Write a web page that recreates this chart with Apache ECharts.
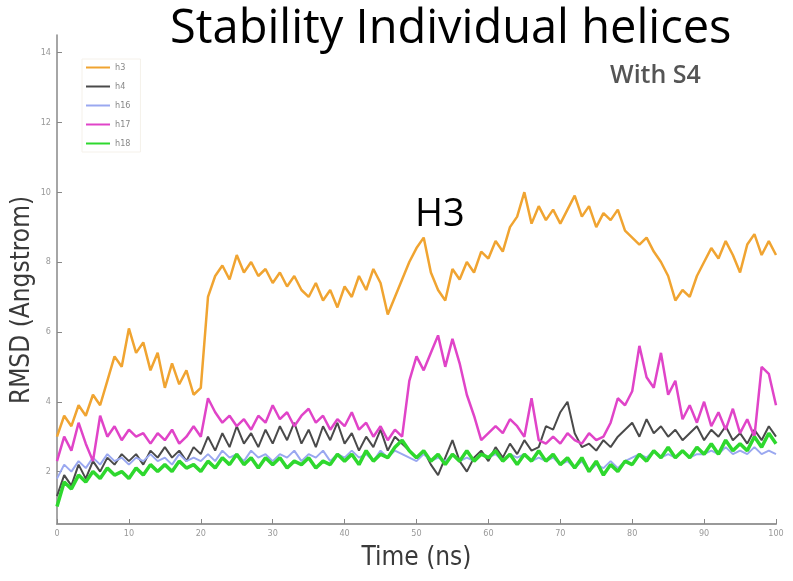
<!DOCTYPE html>
<html>
<head>
<meta charset="utf-8">
<script src="https://cdn.jsdelivr.net/npm/echarts@6/dist/echarts.min.js"></script>
<style>
  html, body { margin: 0; padding: 0; background: #fff; }
  #rmsd_chart { width: 793px; height: 581px; }
</style>
</head>
<body>
<div id="rmsd_chart"></div>
<script>
// sampling times (ns), one frame per ns
var times = [];
for (var t = 0; t <= 100; t++) times.push(t);

var yTicks = [2, 4, 6, 8, 10, 12, 14];
var seriesNames = ['h3', 'h4', 'h16', 'h17', 'h18'];

var h3 = [3.0, 3.6, 3.3, 3.9, 3.6, 4.2, 3.9, 4.6, 5.3, 5.0,
    6.1, 5.4, 5.7, 4.9, 5.4, 4.4, 5.1, 4.5, 4.9, 4.2,
    4.4, 7.0, 7.6, 7.9, 7.5, 8.2, 7.7, 8.0, 7.6, 7.8,
    7.4, 7.7, 7.3, 7.6, 7.2, 7.0, 7.4, 6.9, 7.2, 6.7,
    7.3, 7.0, 7.6, 7.2, 7.8, 7.4, 6.5, 7.0, 7.5, 8.0,
    8.4, 8.7, 7.7, 7.2, 6.9, 7.8, 7.5, 8.0, 7.7, 8.3,
    8.1, 8.6, 8.3, 9.0, 9.3, 10.0, 9.1, 9.6, 9.2, 9.5,
    9.1, 9.5, 9.9, 9.3, 9.6, 9.0, 9.4, 9.2, 9.5, 8.9,
    8.7, 8.5, 8.7, 8.3, 8.0, 7.6, 6.9, 7.2, 7.0, 7.6,
    8.0, 8.4, 8.1, 8.6, 8.2, 7.7, 8.5, 8.8, 8.2, 8.6, 8.2];

var h4 = [1.3, 1.9, 1.6, 2.2, 1.8, 2.3, 2.0, 2.4, 2.2, 2.5,
    2.3, 2.5, 2.2, 2.6, 2.4, 2.7, 2.4, 2.6, 2.3, 2.7,
    2.5, 3.0, 2.6, 3.1, 2.7, 3.3, 2.8, 3.1, 2.7, 3.2,
    2.8, 3.3, 2.9, 3.4, 2.8, 3.2, 2.7, 3.3, 2.9, 3.4,
    2.8, 3.1, 2.6, 3.0, 2.7, 3.2, 2.6, 3.0, 2.8, 2.6,
    2.4, 2.6, 2.2, 1.9, 2.4, 2.9, 2.3, 2.0, 2.4, 2.6,
    2.3, 2.7, 2.4, 2.8, 2.5, 2.9, 2.6, 2.7, 3.3, 3.2,
    3.7, 4.0, 3.1, 2.7, 2.8, 2.6, 2.9, 2.7, 3.0, 3.2,
    3.4, 3.0, 3.5, 3.1, 3.3, 3.0, 3.2, 2.9, 3.1, 3.3,
    2.9, 3.2, 3.0, 3.3, 2.9, 3.1, 2.8, 3.2, 2.9, 3.3, 3.0];

var h16 = [1.8, 2.2, 2.0, 2.3, 2.1, 2.4, 2.2, 2.5, 2.3, 2.4,
    2.2, 2.4, 2.3, 2.5, 2.3, 2.4, 2.2, 2.5, 2.3, 2.4,
    2.3, 2.5, 2.3, 2.6, 2.4, 2.5, 2.3, 2.6, 2.4, 2.5,
    2.3, 2.5, 2.4, 2.6, 2.3, 2.5, 2.4, 2.6, 2.3, 2.5,
    2.4, 2.6, 2.4, 2.5, 2.3, 2.6, 2.4, 2.6, 2.5, 2.4,
    2.3, 2.5, 2.3, 2.4, 2.3, 2.5, 2.3, 2.4, 2.3, 2.5,
    2.4, 2.5, 2.3, 2.5, 2.4, 2.5, 2.3, 2.4, 2.3, 2.4,
    2.2, 2.3, 2.1, 2.3, 2.0, 2.2, 2.1, 2.3, 2.1, 2.3,
    2.4, 2.5, 2.4, 2.6, 2.4, 2.5, 2.4, 2.6, 2.4, 2.5,
    2.5, 2.6, 2.5, 2.7, 2.5, 2.6, 2.5, 2.7, 2.5, 2.6, 2.5];

var h17 = [2.3, 3.0, 2.6, 3.4, 2.8, 2.3, 3.6, 3.0, 3.3, 2.9,
    3.2, 3.0, 3.1, 2.8, 3.1, 2.9, 3.2, 2.8, 3.0, 3.3,
    3.0, 4.1, 3.7, 3.4, 3.6, 3.3, 3.5, 3.2, 3.6, 3.4,
    3.9, 3.5, 3.7, 3.3, 3.6, 3.8, 3.4, 3.6, 3.2, 3.5,
    3.3, 3.7, 3.2, 3.4, 3.0, 3.3, 2.9, 3.2, 3.0, 4.6,
    5.3, 4.9, 5.4, 5.9, 5.0, 5.8, 5.1, 4.2, 3.6, 2.9,
    3.1, 3.3, 3.1, 3.5, 3.3, 3.0, 4.1, 2.9, 2.8, 3.0,
    2.8, 3.1, 2.9, 2.8, 3.1, 2.9, 3.0, 3.4, 4.1, 3.9,
    4.3, 5.6, 4.7, 4.4, 5.4, 4.2, 4.6, 3.5, 3.9, 3.4,
    4.0, 3.3, 3.7, 3.2, 3.8, 3.1, 3.5, 3.0, 5.0, 4.8, 3.9];

var h18 = [1.0, 1.7, 1.5, 1.9, 1.7, 2.0, 1.8, 2.1, 1.9, 2.0,
    1.8, 2.1, 1.9, 2.2, 2.0, 2.2, 2.0, 2.3, 2.1, 2.2,
    2.0, 2.3, 2.1, 2.4, 2.2, 2.5, 2.2, 2.4, 2.1, 2.4,
    2.2, 2.4, 2.1, 2.3, 2.2, 2.4, 2.1, 2.3, 2.2, 2.5,
    2.3, 2.5, 2.2, 2.6, 2.3, 2.5, 2.4, 2.7, 2.9, 2.6,
    2.4, 2.6, 2.3, 2.5, 2.2, 2.5, 2.3, 2.6, 2.3, 2.5,
    2.4, 2.6, 2.3, 2.5, 2.2, 2.5, 2.3, 2.6, 2.3, 2.5,
    2.2, 2.4, 2.1, 2.4, 2.0, 2.3, 1.9, 2.2, 2.0, 2.3,
    2.2, 2.5, 2.3, 2.6, 2.4, 2.7, 2.4, 2.6, 2.4, 2.7,
    2.5, 2.8, 2.5, 2.9, 2.6, 2.8, 2.6, 3.0, 2.7, 3.1, 2.8];

var allValues = [h3, h4, h16, h17, h18];
var colors = ['#f0a431', '#4a4a4a', '#9aa8f0', '#e044c8', '#2ed82e'];
var widths = [2.5, 2, 2, 2.5, 3.5];

function pairs(vals) {
    return times.map(function(t, i) { return [t, vals[i]]; });
}

var axisFont = '"DejaVu Sans Condensed", "Liberation Sans", sans-serif';

var myChart = echarts.init(document.getElementById('rmsd_chart'));
var option = {
    backgroundColor: '#fff',
    color: colors,
    animation: false,
    legend: {
        orient: 'vertical',
        left: 82,
        top: 59,
        itemWidth: 24,
        itemHeight: 2,
        itemGap: 10,
        icon: 'rect',
        padding: [4, 10, 4, 4],
        borderColor: '#f5f1ea',
        borderWidth: 1,
        textStyle: { color: '#888', fontSize: 9, fontFamily: axisFont },
        data: seriesNames,
    },
    grid: { left: 57, right: 17, top: 35, bottom: 57 },
    xAxis: {
        type: 'value',
        min: 0,
        max: 100,
        interval: 10,
        name: 'Time (ns)',
        nameLocation: 'middle',
        nameGap: 21,
        nameTextStyle: { color: '#3a3a3a', fontSize: 26, fontFamily: axisFont },
        axisLine: { lineStyle: { color: '#999', width: 2 } },
        axisTick: { inside: true, length: 5, lineStyle: { color: '#888' } },
        axisLabel: { color: '#999', fontSize: 9, margin: 5, fontFamily: axisFont },
        splitLine: { show: false },
    },
    yAxis: {
        type: 'value',
        min: 0.5,
        max: 14.5,
        axisLine: { show: true, lineStyle: { color: '#888', width: 1.5 } },
        axisTick: { inside: true, length: 5, customValues: yTicks, lineStyle: { color: '#888' } },
        axisLabel: { color: '#999', fontSize: 9, margin: 6, customValues: yTicks, fontFamily: axisFont },
        splitLine: { show: false },
    },
    graphic: [
        {
            type: 'text',
            x: 170,
            y: 6,
            style: {
                text: 'Stability Individual helices',
                fill: '#000',
                font: '47px "Open Sans"',
            },
        },
        {
            type: 'text',
            x: 22,
            y: 300,
            rotation: Math.PI / 2,
            style: {
                text: 'RMSD (Angstrom)',
                fill: '#3a3a3a',
                font: '26px ' + axisFont,
                textAlign: 'center',
                textVerticalAlign: 'middle',
            },
        },
        {
            type: 'text',
            x: 610,
            y: 63,
            style: {
                text: 'With S4',
                fill: '#555',
                font: '600 25px "Open Sans"',
            },
        },
        {
            type: 'text',
            x: 415,
            y: 196,
            style: {
                text: 'H3',
                fill: '#000',
                font: '38px "Open Sans"',
            },
        },
    ],
    series: seriesNames.map(function(name, k) {
        return {
            name: name,
            type: 'line',
            data: pairs(allValues[k]),
            symbol: 'none',
            lineStyle: { width: widths[k], color: colors[k] },
        };
    }),
};
myChart.setOption(option);
</script>
</body>
</html>
